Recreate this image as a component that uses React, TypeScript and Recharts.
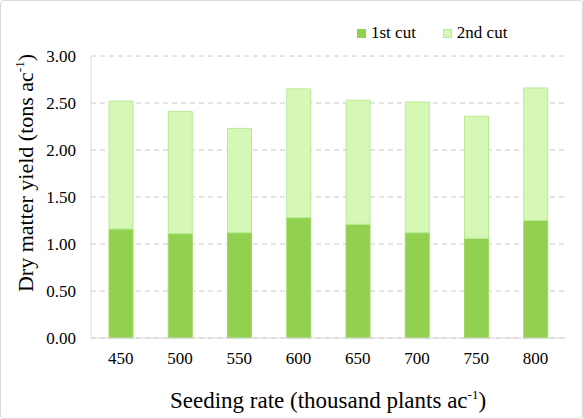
import React from 'react';
import { BarChart, Bar, XAxis, YAxis, CartesianGrid, Label } from 'recharts';

const seedingRates = ['450', '500', '550', '600', '650', '700', '750', '800'];
const firstCut = [1.16, 1.11, 1.12, 1.28, 1.21, 1.12, 1.06, 1.25];
const secondCut = [1.36, 1.3, 1.11, 1.37, 1.32, 1.39, 1.3, 1.41];
const yTicks = [0, 0.5, 1, 1.5, 2, 2.5, 3];

const FONT = "'Liberation Serif', 'Times New Roman', serif";
const FIRST_FILL = '#92D050';
const SECOND_FILL = '#D5F8B6';

const chartData = seedingRates.map((rate, i) => ({
  rate,
  first: firstCut[i],
  second: secondCut[i],
}));

const legendItems = [
  { name: '1st cut', fill: FIRST_FILL, stroke: '#92D050' },
  { name: '2nd cut', fill: SECOND_FILL, stroke: '#B8EA96' },
];

const tickStyle = { fontFamily: FONT, fontSize: 17, fill: '#000', style: { fontFamily: FONT } };

const LegendBox = () => (
  <div
    style={{
      position: 'absolute',
      left: 356,
      top: 22,
      display: 'flex',
      alignItems: 'center',
      fontFamily: FONT,
      fontSize: 17,
      lineHeight: '20px',
      color: '#000',
    }}
  >
    {legendItems.map((item, i) => (
      <div key={item.name} style={{ display: 'flex', alignItems: 'center', marginRight: i === 0 ? 27 : 0 }}>
        <span
          style={{
            display: 'inline-block',
            width: 9,
            height: 9,
            background: item.fill,
            border: `1px solid ${item.stroke}`,
            boxSizing: 'border-box',
            marginRight: 5,
          }}
        />
        <span>{item.name}</span>
      </div>
    ))}
  </div>
);

// axis titles carry a superscript, so they are drawn as custom label content
const XTitle = (props: any) => {
  const { viewBox } = props;
  const cx = viewBox.x + viewBox.width / 2;
  return (
    <text x={cx} y={408} textAnchor="middle" style={{ fontFamily: FONT }} fontSize={23} fill="#000">
      Seeding rate (thousand plants ac
      <tspan dy={-9} fontSize={13}>-1</tspan>
      <tspan dy={9}>)</tspan>
    </text>
  );
};

const YTitle = () => (
  <text
    x={0}
    y={0}
    transform="translate(33, 173) rotate(-90)"
    textAnchor="middle"
    style={{ fontFamily: FONT }}
    fontSize={22}
    fill="#000"
  >
    Dry matter yield (tons ac
    <tspan dy={-9} fontSize={13}>-1</tspan>
    <tspan dy={9}>)</tspan>
  </text>
);

export default function App() {
  return (
    <div
      style={{
        position: 'absolute',
        left: 0,
        top: 0,
        width: 583,
        height: 419,
        border: '1px solid #D9D9D9',
        borderRadius: 4,
        boxSizing: 'border-box',
        background: '#fff',
        fontFamily: FONT,
      }}
    >
      <div style={{ position: 'absolute', left: -1, top: -1 }}>
        <BarChart
          width={583}
          height={419}
          data={chartData}
          margin={{ top: 56, right: 18, bottom: 0, left: 0 }}
          barSize={24}
        >
          <CartesianGrid vertical={false} stroke="#C8C8C8" strokeDasharray="5 4" />
          <XAxis
            dataKey="rate"
            height={81}
            axisLine={{ stroke: '#D9D9D9' }}
            tickLine={false}
            tickSize={12}
            tickMargin={2}
            tick={tickStyle}
            interval={0}
          >
            <Label content={<XTitle />} />
          </XAxis>
          <YAxis
            width={91}
            domain={[0, 3]}
            ticks={yTicks}
            tickFormatter={(v: number) => v.toFixed(2)}
            axisLine={{ stroke: '#D9D9D9' }}
            tickLine={false}
            tickSize={13}
            tickMargin={2}
            tick={tickStyle}
            interval={0}
          >
            <Label content={<YTitle />} />
          </YAxis>
          <YAxis
            yAxisId="right"
            orientation="right"
            width={0}
            domain={[0, 3]}
            tick={false}
            tickLine={false}
            axisLine={{ stroke: '#D9D9D9' }}
          />
          <Bar dataKey="first" name="1st cut" stackId="a" fill={FIRST_FILL} stroke="#9ED862" strokeWidth={1} isAnimationActive={false} />
          <Bar dataKey="second" name="2nd cut" stackId="a" fill={SECOND_FILL} stroke="#B8EA96" strokeWidth={1} isAnimationActive={false} />
        </BarChart>
      </div>
      <LegendBox />
    </div>
  );
}
